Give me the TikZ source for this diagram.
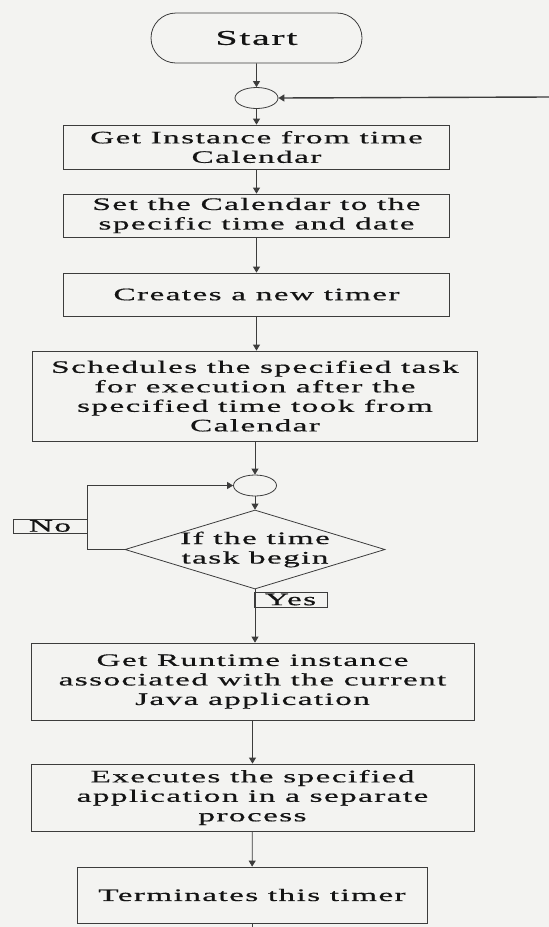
\documentclass[tikz,border=0pt]{standalone}
\usepackage{fontspec}
\setmainfont{Liberation Serif}[FakeStretch=1.9,LetterSpace=8,FakeBold=0.6]
\usetikzlibrary{shapes.geometric,shapes.misc,arrows.meta}

\definecolor{paper}{RGB}{243,243,241}
\definecolor{ink}{RGB}{20,20,20}
\definecolor{edge}{RGB}{60,60,60}

\begin{document}
\begin{tikzpicture}[x=1pt,y=-1pt,
  every node/.style={inner sep=0pt,text=ink},
  txt/.style={font=\fontsize{17.5}{19.5}\selectfont,align=center},
  stepbox/.style={txt,draw=edge,line width=0.8pt},
  joint/.style={ellipse,draw=edge,line width=0.8pt,minimum width=43pt,minimum height=21pt},
  flow/.style={draw=edge,line width=0.8pt,-{Triangle[width=7pt,length=6pt]}},
  plain/.style={draw=edge,line width=0.8pt}
]
% page
\fill[paper] (0,0) rectangle (549,927);
\useasboundingbox (0,0) rectangle (549,927);

% terminator and junctions
\node[rounded rectangle,draw=edge,line width=0.8pt,minimum width=211pt,minimum height=50pt,
      font=\fontsize{21}{23}\selectfont] (start) at (256.5,38) {Start};
\node[joint] (j1) at (256.5,98) {};
\coordinate (feed) at (549,97);

% process steps
\node[stepbox,minimum width=386pt,minimum height=44pt] (b1) at (256.5,147)
  {Get Instance from time\\Calendar};
\node[stepbox,minimum width=386pt,minimum height=43pt] (b2) at (256.5,215.5)
  {Set the Calendar to the\\specific time and date};
\node[stepbox,minimum width=386pt,minimum height=43pt] (b3) at (256.5,294.5)
  {Creates a new timer};
\node[stepbox,minimum width=445pt,minimum height=90pt] (b4) at (255,396)
  {Schedules the specified task\\for execution after the\\specified time took from\\Calendar};

\node[joint] (j2) at (255,485.5) {};
\node[diamond,draw=edge,line width=0.8pt,minimum width=260pt,minimum height=79pt,
      label={[txt]center:If the time\\task begin}] (dec) at (255,549.5) {};
\node[stepbox,minimum width=74pt,minimum height=14pt] (no) at (50,526) {No};
\node[stepbox,minimum width=73pt,minimum height=15pt] (yes) at (290.5,599.5) {Yes};

\node[stepbox,minimum width=443pt,minimum height=77pt] (b5) at (252.5,681.5)
  {Get Runtime instance\\associated with the current\\Java application};
\node[stepbox,minimum width=443pt,minimum height=67pt] (b6) at (252.5,797.5)
  {Executes the specified\\application in a separate\\process};
\node[stepbox,minimum width=350pt,minimum height=56pt] (b7) at (252,895)
  {Terminates this timer};
\coordinate (tail) at (252,927);

% connectors
\draw[flow] (start) -- (j1);
\draw[flow,line width=1.4pt] (feed) -- (j1.east);
\draw[flow] (j1) -- (b1);
\draw[flow] (b1) -- (b2);
\draw[flow] (b2) -- (b3);
\draw[flow] (b3.south) -- (b3.south |- b4.north);
\draw[flow] (b4) -- (j2);
\draw[flow] (j2) -- (dec);
\draw[flow] (dec.west) -- (dec.west -| no.east) |- (j2.west);
\draw[flow] (dec.south) -- (dec.south |- b5.north);
\draw[flow] (b5) -- (b6);
\draw[flow] (b6) -- (b7);
\draw[plain] (b7) -- (tail);
\end{tikzpicture}
\end{document}
